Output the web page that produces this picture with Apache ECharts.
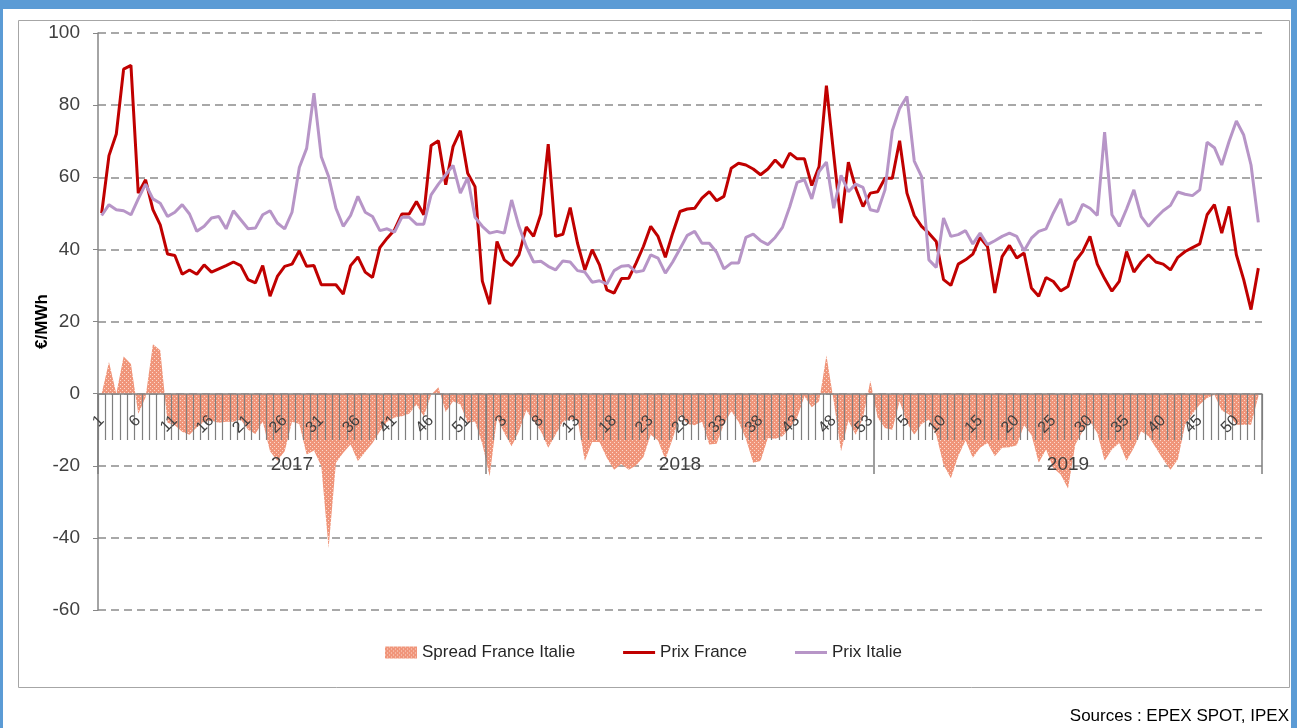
<!DOCTYPE html>
<html lang="fr">
<head>
    <meta charset="UTF-8">
    <script src="https://cdn.jsdelivr.net/npm/echarts@6/dist/echarts.min.js"></script>
    <title>Spread France Italie</title>
    <style>
        html, body { margin: 0; padding: 0; background: #fff; }
        #chart { width: 1297px; height: 728px; }
    </style>
</head>
<body>
    <div id="chart"></div>
    <script type="text/javascript">
        // weekly prices, €/MWh, 53 slots per year
        var years = ['2017', '2018', '2019'];
        var weeksPerYear = 53;

        var france2017 = [50, 66, 72, 90, 91, 55.6, 59.3, 51, 46.8, 38.7, 38.3, 33.1, 34.3, 33.1, 35.7, 33.7, 34.6, 35.5, 36.5, 35.5, 31.6, 30.7, 35.5, 27, 32.5, 35.3, 35.9, 39.6, 35.3, 35.5, 30.2, 30.2, 30.2, 27.6, 35.5, 37.9, 33.7, 32.2, 40.5, 43.1, 45.4, 49.8, 49.8, 53.3, 49.6, 68.8, 70.1, 57.9, 68.5, 72.9, 61.1, 57.4, 31.2];
        var france2018 = [24.8, 42.2, 37.1, 35.5, 38.5, 46.2, 43.6, 49.8, 69.2, 43.6, 44.2, 51.6, 41.7, 34.3, 39.9, 35.7, 28.8, 27.9, 31.9, 32, 36.2, 40.8, 46.4, 43.6, 37.8, 44.5, 50.5, 51.2, 51.4, 54.2, 56, 53.5, 54.7, 62.5, 63.9, 63.4, 62.3, 60.7, 62.3, 64.8, 62.7, 66.7, 65.1, 65.1, 57.7, 63, 85.4, 66.2, 47.3, 64.2, 57, 51.9, 55.6];
        var france2019 = [56, 59.7, 59.7, 70.1, 55.6, 49.4, 46.4, 44.5, 42.2, 31.6, 30, 35.9, 37.1, 38.7, 43.3, 40.8, 27.9, 38, 41.1, 37.6, 39, 29.3, 27, 32.2, 31.1, 28.5, 29.7, 36.7, 39.4, 43.6, 35.9, 31.9, 28.4, 31.1, 39.4, 33.7, 36.5, 38.5, 36.5, 35.9, 34.3, 37.8, 39.4, 40.5, 41.5, 49.6, 52.4, 44.5, 51.9, 38.5, 31.6, 23.3, 34.8];

        var italie2017 = [49.4, 52.4, 51, 50.7, 49.6, 54, 58.1, 54, 52.8, 49.1, 50.3, 52.4, 49.8, 45, 46.4, 48.7, 49.1, 45.7, 50.7, 48.2, 45.7, 45.9, 49.6, 50.7, 47.3, 45.7, 50.3, 62.7, 68, 83.3, 65.7, 60.2, 51.4, 46.4, 49.4, 54.7, 50.3, 49.1, 45.2, 45.7, 44.8, 48.9, 48.9, 47, 47, 55.1, 58.1, 60.7, 63.3, 55.6, 59.9, 48.9, 46.4];
        var italie2018 = [44.5, 45, 44.5, 53.7, 46.4, 40.8, 36.5, 36.7, 35.3, 34.3, 36.8, 36.5, 34.1, 33.7, 30.9, 31.3, 30.4, 34.1, 35.3, 35.5, 33.7, 34.1, 38.5, 37.6, 33.4, 36.5, 40.2, 43.9, 45, 41.7, 41.7, 39.2, 34.6, 36.2, 36.2, 43.3, 44.2, 42.4, 41.3, 43.3, 46.1, 51.9, 58.6, 59.3, 54, 61.6, 64.2, 51.4, 60.5, 56, 58.1, 57.2, 51];
        var italie2019 = [50.5, 56.5, 72.9, 79.1, 82.4, 64.5, 60.2, 37.1, 35, 48.7, 43.6, 44.1, 45.2, 41.5, 44.5, 41.3, 42.4, 43.6, 44.5, 43.6, 39.6, 43.1, 45, 45.7, 50.1, 54, 46.8, 47.9, 52.5, 51.4, 49.4, 72.5, 49.6, 46.4, 51.2, 56.5, 49.1, 46.4, 48.7, 50.7, 52.2, 55.9, 55.3, 54.9, 56.5, 69.7, 68.2, 63.4, 69.9, 75.6, 71.7, 63.4, 47.5];

        var spread2017 = [0, 8.8, 0, 10.3, 8.2, -5.6, -1, 13.7, 12, -8.1, -8.8, -10.6, -11.4, -9.3, -7.8, -7.5, -8.1, -7.8, -7.8, -7.2, -10, -11.2, -7.7, -16, -18.6, -16, -7.8, -8.4, -16.9, -15.8, -20.1, -42.8, -19.2, -16.4, -14.1, -18.7, -16.2, -13.7, -10.4, -7.8, -6.6, -6.3, -5.6, -3, -6.3, -0.3, 1.8, -5.1, -2.1, -3, -8.1, -7.7, -14];
        var spread2018 = [-22.9, -6.7, -10.9, -14.6, -10.4, -4.7, -7.5, -10.4, -15, -11.4, -7.8, -7.2, -7.2, -18.7, -13.4, -13.4, -17.8, -21.1, -19.5, -21.1, -19.9, -17.6, -11.4, -13, -18.3, -12.5, -5.8, -8.4, -8.8, -7.8, -14.1, -13.9, -8.4, -4.9, -7.8, -12.5, -19.2, -18.7, -12.3, -12.5, -11.8, -9.5, -6.7, -0.7, -3.8, -2.1, 10.6, -2.1, -16, -7.5, -11.4, -6.7, 3.6];
        var spread2019 = [-6.7, -9.5, -10, -2.1, -8.1, -11.4, -8.4, -7.2, -11.4, -19.7, -23.5, -17.4, -13, -17.8, -15, -13.7, -17.4, -15, -14.9, -14.3, -8.8, -11.4, -19.2, -15.5, -20.6, -22.4, -26.3, -14.1, -10.4, -7.7, -10.9, -18.6, -15.5, -13.7, -18.6, -15, -10.4, -11.8, -15, -18.3, -21.1, -18.3, -8.6, -5.6, -3, -1.2, -0.3, -4.7, -5.8, -8.6, -8.6, -8.6, -0.7];

        var france = france2017.concat(france2018, france2019);
        var italie = italie2017.concat(italie2018, italie2019);
        var spread = spread2017.concat(spread2018, spread2019);

        // category keys "year-week"
        var categories = [];
        years.forEach(function (y) {
            for (var w = 1; w <= weeksPerYear; w++) categories.push(y + '-' + w);
        });

        // dotted fill like the excel pattern
        var patCanvas = document.createElement('canvas');
        patCanvas.width = 4;
        patCanvas.height = 4;
        var pctx = patCanvas.getContext('2d');
        pctx.fillStyle = '#f0957a';
        pctx.fillRect(0, 0, 4, 4);
        pctx.fillStyle = '#fcd9cd';
        pctx.fillRect(0, 0, 1, 1);
        pctx.fillRect(2, 2, 1, 1);
        var spreadFill = { image: patCanvas, repeat: 'repeat' };

        var BLUE = '#5b9bd5';
        var RED = '#c00000';
        var LILAS = '#b795c7';
        var AXIS = '#868686';
        var FONT = "'Liberation Sans', Arial, sans-serif";
        var linePath = 'path://M0,0H32V3H0Z';

        // grid 0 holds the series, grid 1 only carries the week/year axis drawn at y = 0
        var TOP = 33, ZERO_Y = 394, BOTTOM_Y = 610;

        var chart = echarts.init(document.getElementById('chart'));
        var option = {
            backgroundColor: '#fff',
            animation: false,
            textStyle: { fontFamily: FONT },
            graphic: [
                { type: 'rect', silent: true, shape: { x: 0, y: 0, width: 1297, height: 9 }, style: { fill: BLUE } },
                { type: 'rect', silent: true, shape: { x: 0, y: 0, width: 3, height: 728 }, style: { fill: BLUE } },
                { type: 'rect', silent: true, shape: { x: 1291, y: 0, width: 6, height: 728 }, style: { fill: BLUE } },
                { type: 'rect', silent: true, shape: { x: 18.5, y: 20.5, width: 1271, height: 667 }, style: { fill: 'none', stroke: '#a6a6a6', lineWidth: 1 } },
                {
                    type: 'text', silent: true, x: 1289, y: 716,
                    style: { text: 'Sources : EPEX SPOT, IPEX', align: 'right', verticalAlign: 'middle', fontSize: 17, fontFamily: FONT, fill: '#000' }
                }
            ],
            legend: {
                left: 380,
                top: 639,
                itemWidth: 32,
                itemHeight: 12,
                itemGap: 48,
                textStyle: { fontSize: 17, color: '#262626' },
                data: [
                    { name: 'Spread France Italie', icon: 'rect', itemStyle: { color: spreadFill } },
                    { name: 'Prix France', icon: linePath, itemStyle: { color: RED } },
                    { name: 'Prix Italie', icon: linePath, itemStyle: { color: LILAS } }
                ]
            },
            grid: [
                { left: 98, right: 35, top: TOP, bottom: 728 - BOTTOM_Y },
                { left: 98, right: 35, top: TOP, bottom: 728 - ZERO_Y }
            ],
            xAxis: [
                {
                    gridIndex: 0,
                    type: 'category',
                    data: categories,
                    boundaryGap: true,
                    show: false
                },
                {
                    gridIndex: 1,
                    type: 'category',
                    data: categories,
                    position: 'bottom',
                    boundaryGap: true,
                    z: 5,
                    axisLine: { show: true, onZero: false, lineStyle: { color: AXIS, width: 1.5 } },
                    axisTick: { show: true, interval: 0, length: 46, lineStyle: { color: '#7f7f7f', width: 1.2 } },
                    axisLabel: {
                        show: true, interval: 4, rotate: 45, margin: 24, fontSize: 16, color: '#404040',
                        formatter: function (v) { return v.split('-')[1]; }
                    },
                    splitLine: { show: false }
                },
                {
                    gridIndex: 1,
                    type: 'category',
                    data: years,
                    position: 'bottom',
                    boundaryGap: true,
                    z: 5,
                    axisLine: { show: false, onZero: false },
                    axisTick: { show: true, length: 80, lineStyle: { color: '#7f7f7f', width: 1.5 } },
                    axisLabel: { show: true, margin: 61, fontSize: 19, color: '#404040' },
                    splitLine: { show: false }
                }
            ],
            yAxis: [
                {
                    gridIndex: 0,
                    type: 'value',
                    min: -60,
                    max: 100,
                    interval: 20,
                    name: '€/MWh',
                    nameLocation: 'middle',
                    nameGap: 47,
                    nameMoveOverlap: false,
                    nameTextStyle: { fontSize: 17, fontWeight: 'bold', color: '#000' },
                    axisLine: { show: true, lineStyle: { color: AXIS, width: 1.5 } },
                    axisTick: { show: true, length: 5, lineStyle: { color: AXIS } },
                    axisLabel: { fontSize: 19, color: '#404040', margin: 18 },
                    splitLine: { show: true, lineStyle: { color: '#8c8c8c', type: [8, 5], width: 1.5 } }
                },
                {
                    gridIndex: 1,
                    type: 'value',
                    min: 0,
                    max: 1,
                    show: false
                }
            ],
            series: [
                {
                    name: 'Spread France Italie',
                    type: 'line',
                    xAxisIndex: 0,
                    yAxisIndex: 0,
                    data: spread,
                    symbol: 'none',
                    lineStyle: { width: 0, opacity: 0 },
                    itemStyle: { color: '#f0957a' },
                    areaStyle: { color: spreadFill, opacity: 1 },
                    z: 1
                },
                {
                    name: 'Prix France',
                    type: 'line',
                    xAxisIndex: 0,
                    yAxisIndex: 0,
                    data: france,
                    symbol: 'none',
                    itemStyle: { color: RED },
                    lineStyle: { width: 3, color: RED }
                },
                {
                    name: 'Prix Italie',
                    type: 'line',
                    xAxisIndex: 0,
                    yAxisIndex: 0,
                    data: italie,
                    symbol: 'none',
                    itemStyle: { color: LILAS },
                    lineStyle: { width: 3, color: LILAS }
                }
            ]
        };
        chart.setOption(option);
    </script>
</body>
</html>
